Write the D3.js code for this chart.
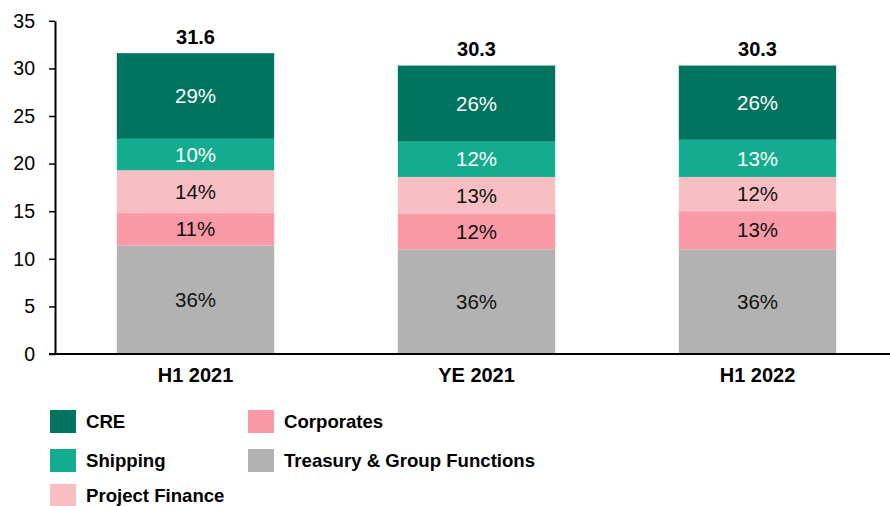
<!DOCTYPE html>
<html><head><meta charset="utf-8">
<script src="https://cdn.jsdelivr.net/npm/d3@7"></script>
<style>body{margin:0;background:#fff}svg{display:block;font-family:"Liberation Sans",Arial,sans-serif}</style>
</head><body><svg id="c" width="890" height="506"></svg>
<script>
const categories = ["H1 2021", "YE 2021", "H1 2022"];
const seriesNames = ["Treasury & Group Functions", "Corporates", "Project Finance", "Shipping", "CRE"];
const treasury = [11.4, 11.0, 11.0];
const corporates = [3.4, 3.7, 4.0];
const projectFinance = [4.5, 3.9, 3.6];
const shipping = [3.3, 3.7, 3.9];
const cre = [9.0, 8.0, 7.8];
const totals = ["31.6", "30.3", "30.3"];
const pctTreasury = ["36%", "36%", "36%"];
const pctCorporates = ["11%", "12%", "13%"];
const pctProjectFinance = ["14%", "13%", "12%"];
const pctShipping = ["10%", "12%", "13%"];
const pctCre = ["29%", "26%", "26%"];
const yTicks = [0, 5, 10, 15, 20, 25, 30, 35];

const colors = {"CRE":"#00745F","Shipping":"#14AC8E","Project Finance":"#F7BFC4","Corporates":"#F99AA6","Treasury & Group Functions":"#B2B2B2"};
const textColors = {"CRE":"#fff","Shipping":"#fff","Project Finance":"#111","Corporates":"#111","Treasury & Group Functions":"#111"};
const values = [treasury, corporates, projectFinance, shipping, cre];
const pcts = [pctTreasury, pctCorporates, pctProjectFinance, pctShipping, pctCre];

const svg = d3.select("#c");
const x = d3.scaleBand().domain(categories).range([55, 898]).paddingInner(0.44).paddingOuter(0.22);
const y = d3.scaleLinear().domain([0, 35]).range([354, 20.8]);

const rows = categories.map((c, i) => {
  const r = {cat: c};
  seriesNames.forEach((s, k) => r[s] = values[k][i]);
  return r;
});
const stack = d3.stack().keys(seriesNames)(rows);

stack.forEach((layer, k) => {
  const name = seriesNames[k];
  const g = svg.append("g");
  g.selectAll("rect").data(layer).join("rect")
    .attr("x", d => x(d.data.cat)).attr("width", x.bandwidth())
    .attr("y", d => y(d[1])).attr("height", d => y(d[0]) - y(d[1]))
    .attr("fill", colors[name]);
  g.selectAll("text").data(layer).join("text")
    .attr("x", d => x(d.data.cat) + x.bandwidth()/2)
    .attr("y", d => (y(d[0]) + y(d[1]))/2)
    .attr("dy", "0.35em").attr("text-anchor", "middle")
    .attr("font-size", 20.5).attr("fill", textColors[name])
    .text((d, i) => pcts[k][i]);
});

// totals
svg.append("g").selectAll("text").data(stack[stack.length-1]).join("text")
  .attr("x", d => x(d.data.cat) + x.bandwidth()/2)
  .attr("y", d => y(d[1]) - 9.5)
  .attr("text-anchor", "middle").attr("font-size", 20).attr("font-weight", "bold").attr("fill", "#000")
  .text((d, i) => totals[i]);

// y axis
const ya = svg.append("g").attr("transform", "translate(55,0)")
  .call(d3.axisLeft(y).tickValues(yTicks).tickSize(6).tickPadding(14).tickSizeOuter(0));
ya.select(".domain").attr("stroke", "#000").attr("stroke-width", 2);
ya.selectAll(".tick line").attr("stroke", "#000").attr("stroke-width", 1.5);
ya.selectAll("text").attr("font-size", 19.5).attr("fill", "#000").attr("font-family", "Liberation Sans, Arial, sans-serif");

// x axis
const xa = svg.append("g").attr("transform", "translate(0,354)")
  .call(d3.axisBottom(x).tickSize(0).tickPadding(14));
xa.select(".domain").attr("d", "M49,0H890").attr("stroke", "#000").attr("stroke-width", 2);
xa.selectAll("text").attr("font-size", 20).attr("font-weight", "bold").attr("fill", "#000").attr("font-family", "Liberation Sans, Arial, sans-serif");

// legend
const legendItems = [
  {name: "CRE", col: 0, row: 0},
  {name: "Shipping", col: 0, row: 1},
  {name: "Project Finance", col: 0, row: 2},
  {name: "Corporates", col: 1, row: 0},
  {name: "Treasury & Group Functions", col: 1, row: 1}
];
const lg = svg.append("g");
const colX = [50, 248], rowY = [410, 449, 484];
legendItems.forEach(it => {
  lg.append("rect").attr("x", colX[it.col]).attr("y", rowY[it.row]).attr("width", 26).attr("height", 23).attr("fill", colors[it.name]);
  lg.append("text").attr("x", colX[it.col] + 36).attr("y", rowY[it.row] + 12).attr("dy", "0.3em")
    .attr("font-size", 18.6).attr("font-weight", "bold").attr("fill", "#000").text(it.name);
});
</script></body></html>
